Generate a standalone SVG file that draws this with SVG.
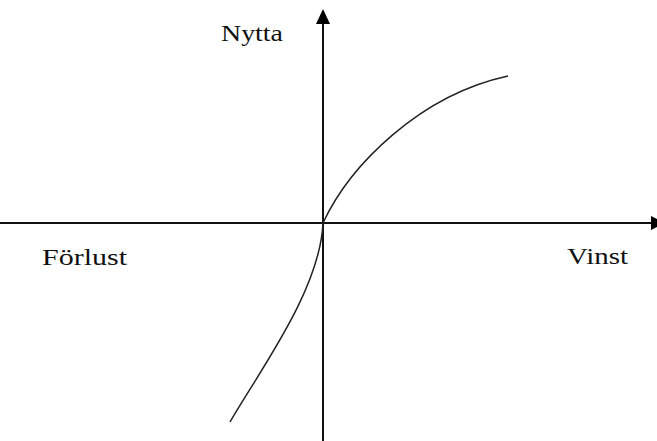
<svg xmlns="http://www.w3.org/2000/svg" width="657" height="441" viewBox="0 0 657 441">
  <style>
    .axis { stroke: #111; stroke-width: 2; fill: none; }
    .head { fill: #000; stroke: none; }
    .curve { stroke: #222; stroke-width: 1.5; fill: none; }
    .lbl { font-family: "Liberation Serif", "Times New Roman", serif; font-size: 24px; fill: #111; }
  </style>
  <rect width="657" height="441" fill="#fff"/>
  <g id="connectors">
    <g id="x-axis">
      <line class="axis" x1="0" y1="223" x2="654" y2="223"/>
      <polygon class="head" points="651,216 651,230 665,223"/>
    </g>
    <g id="y-axis">
      <line class="axis" x1="323" y1="441" x2="323" y2="22"/>
      <polygon class="head" points="323,9 316,24 330,24"/>
    </g>
  </g>
  <g id="curve">
    <path class="curve" d="M230,422 C260,370 320,290 323,223 C350,165 420,95 508,76"/>
  </g>
  <g id="label-nytta"><text class="lbl" x="221" y="41" textLength="62" lengthAdjust="spacingAndGlyphs">Nytta</text></g>
  <g id="label-forlust"><text class="lbl" x="42" y="265" textLength="85" lengthAdjust="spacingAndGlyphs">Förlust</text></g>
  <g id="label-vinst"><text class="lbl" x="567" y="264" textLength="61" lengthAdjust="spacingAndGlyphs">Vinst</text></g>
</svg>
